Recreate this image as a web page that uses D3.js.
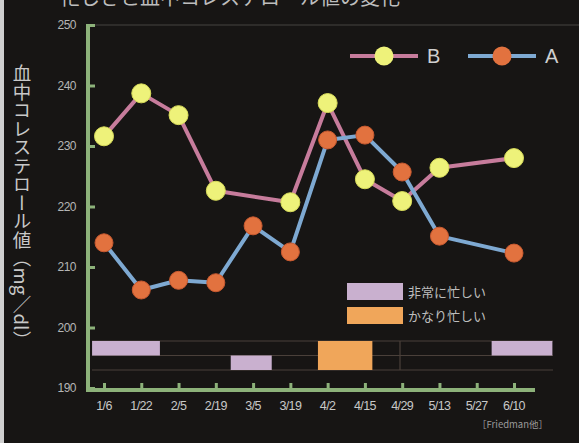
<!DOCTYPE html>
<html><head><meta charset="utf-8">
<script src="https://cdn.jsdelivr.net/npm/d3@7"></script>
<style>
html,body{margin:0;padding:0;background:#161413;}
svg{display:block;}
</style></head>
<body>
<svg id="c" width="579" height="443"></svg>
<script>
const dates = ["1/6","1/22","2/5","2/19","3/5","3/19","4/2","4/15","4/29","5/13","5/27","6/10"];
const seriesB = [231.6, 238.7, 235.1, 222.6, null, 220.7, 237.1, 224.5, 220.9, 226.4, null, 228.0];
const seriesA = [214.0, 206.2, 207.8, 207.4, 216.8, 212.5, 231.0, 231.8, 225.7, 215.1, null, 212.3];
const yTicks = [190, 200, 210, 220, 230, 240, 250];
// busy periods: start/end in date-index units, row 0 = top, span = rows covered
const busyLevel = ["非常に忙しい", "非常に忙しい", "かなり忙しい", "非常に忙しい"];
const busyStart = [-0.32, 3.4, 5.74, 10.4];
const busyEnd = [1.5, 4.5, 7.2, 12.03];
const busyRow = [0, 1, 0, 0];
const busyRows = [1, 1, 2, 1];
const legendSeries = ["B", "A"];
const legendBusy = ["非常に忙しい", "かなり忙しい"];

const svg = d3.select("#c");
const W = 579, H = 443;
svg.append("rect").attr("width", W).attr("height", H).attr("fill", "#171514");
svg.append("rect").attr("x", 0).attr("y", 0).attr("width", 4).attr("height", H).attr("fill", "#cfcfcf");

// cropped title at top (cut off in the reference)
svg.append("text").attr("x", 60).attr("y", 5)
  .attr("font-family", "Noto Sans CJK JP").attr("font-size", 20).attr("fill", "#bdbdbd")
  .text("忙しさと血中コレステロール値の変化");
svg.append("line").attr("x1", 90).attr("x2", W).attr("y1", 25).attr("y2", 25)
  .attr("stroke", "#2e2c2a").attr("stroke-width", 2);

const x = d3.scalePoint().domain(d3.range(dates.length)).range([104, 514]);
const step = x.step();
const xi = i => 104 + i * step;
const y = d3.scaleLinear().domain([190, 250]).range([388, 25]);

const green = "#8db27a";
// y axis
const yAxis = d3.axisRight(y).tickValues(yTicks).tickSize(7).tickFormat("");
const gy = svg.append("g").attr("transform", "translate(88,0)").call(yAxis);
gy.select(".domain").remove();
gy.selectAll("line").attr("stroke", green).attr("stroke-width", 3);
svg.append("line").attr("x1", 88).attr("x2", 88).attr("y1", 24).attr("y2", 391)
  .attr("stroke", green).attr("stroke-width", 4);
svg.selectAll(".ylab").data(yTicks).enter().append("text").attr("class", "ylab")
  .attr("x", 76).attr("y", d => y(d) + 4).attr("text-anchor", "end")
  .attr("font-family", "Liberation Sans Narrow, Liberation Sans, sans-serif")
  .attr("font-size", 12).attr("fill", "#b5b5b5").attr("letter-spacing", -0.5)
  .text(d => d);

// x axis
svg.append("line").attr("x1", 86).attr("x2", 535).attr("y1", 390).attr("y2", 390)
  .attr("stroke", green).attr("stroke-width", 4);
const xAxis = d3.axisTop(x).tickSize(6).tickFormat("");
const gx = svg.append("g").attr("transform", "translate(0,389)").call(xAxis);
gx.select(".domain").remove();
gx.selectAll("line").attr("stroke", green).attr("stroke-width", 3);
svg.selectAll(".xlab").data(dates).enter().append("text").attr("class", "xlab")
  .attr("x", (d, i) => x(i)).attr("y", 410).attr("text-anchor", "middle")
  .attr("font-family", "Liberation Sans Narrow, Liberation Sans, sans-serif")
  .attr("font-size", 12.5).attr("fill", "#c8c8c8").attr("letter-spacing", -0.6)
  .text(d => d);

// busy grid
const rowTop = 341, rowH = 14.5;
const busyColor = {"非常に忙しい": "#c9b0cf", "かなり忙しい": "#f0a65a"};
[0, 1, 2].forEach(r => {
  svg.append("line").attr("x1", 92).attr("x2", 553).attr("y1", rowTop + r * rowH).attr("y2", rowTop + r * rowH)
    .attr("stroke", "#4a403a").attr("stroke-width", 1.2);
});
svg.append("line").attr("x1", 400).attr("x2", 400).attr("y1", rowTop).attr("y2", rowTop + 2 * rowH)
  .attr("stroke", "#4a403a").attr("stroke-width", 1.2);
svg.selectAll(".busy").data(busyLevel).enter().append("rect").attr("class", "busy")
  .attr("x", (d, i) => xi(busyStart[i]))
  .attr("width", (d, i) => xi(busyEnd[i]) - xi(busyStart[i]))
  .attr("y", (d, i) => rowTop + busyRow[i] * rowH)
  .attr("height", (d, i) => busyRows[i] * rowH)
  .attr("fill", d => busyColor[d]);

// lines
const pink = "#c77c9c", blue = "#7ea9d2";
const yellow = "#eef27a", orange = "#e2723f";
function drawSeries(vals, lineColor) {
  const pts = vals.map((v, i) => ({i, v})).filter(d => d.v !== null);
  const line = d3.line().x(d => x(d.i)).y(d => y(d.v));
  svg.append("path").datum(pts).attr("d", line).attr("fill", "none")
    .attr("stroke", lineColor).attr("stroke-width", 4).attr("stroke-linejoin", "round");
  return pts;
}
const ptsB = drawSeries(seriesB, pink);
const ptsA = drawSeries(seriesA, blue);
svg.selectAll(".dotA").data(ptsA).enter().append("circle")
  .attr("cx", d => x(d.i)).attr("cy", d => y(d.v)).attr("r", 9)
  .attr("fill", orange).attr("stroke", "#c95a30").attr("stroke-width", 1);
svg.selectAll(".dotB").data(ptsB).enter().append("circle")
  .attr("cx", d => x(d.i)).attr("cy", d => y(d.v)).attr("r", 9.5)
  .attr("fill", yellow).attr("stroke", "#d8dc5a").attr("stroke-width", 1);

// legend series
const legX = [350, 468];
const legLine = [pink, blue], legDot = [yellow, orange];
legendSeries.forEach((s, k) => {
  svg.append("line").attr("x1", legX[k]).attr("x2", legX[k] + 68).attr("y1", 56).attr("y2", 56)
    .attr("stroke", legLine[k]).attr("stroke-width", 4);
  svg.append("circle").attr("cx", legX[k] + 34).attr("cy", 56).attr("r", 9.5).attr("fill", legDot[k]);
  svg.append("text").attr("x", legX[k] + 77).attr("y", 63)
    .attr("font-family", "Liberation Sans, sans-serif").attr("font-size", 20)
    .attr("fill", "#cfcfcf").text(s);
});

// legend busy
legendBusy.forEach((s, k) => {
  svg.append("rect").attr("x", 347).attr("y", 283 + k * 24).attr("width", 56).attr("height", 17)
    .attr("fill", busyColor[s]);
  svg.append("text").attr("x", 408).attr("y", 297 + k * 24)
    .attr("font-family", "Noto Sans CJK JP").attr("font-size", 13)
    .attr("fill", "#bdbdbd").text(s);
});

// y axis title
svg.append("text").attr("x", 22).attr("y", 64)
  .attr("font-family", "Noto Sans CJK JP").attr("font-size", 18.5)
  .attr("fill", "#c8c8c8").style("writing-mode", "vertical-rl")
  .text("血中コレステロール値（mg／dl）");

// source
svg.append("text").attr("x", 548).attr("y", 428).attr("text-anchor", "end")
  .attr("font-family", "Noto Sans CJK JP").attr("font-size", 9.5)
  .attr("fill", "#9a9a9a").text("［Friedman他］");
</script>
</body></html>
